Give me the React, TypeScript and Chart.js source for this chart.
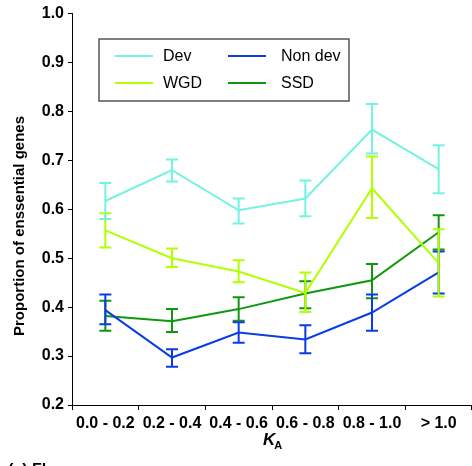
import React, { useEffect, useRef } from "react";
import { Chart, registerables } from "chart.js";

Chart.register(...registerables);

const FONT = "'Liberation Sans', Arial, Helvetica, sans-serif";
const NARROW = "'Liberation Sans Narrow', 'Arial Narrow', 'Liberation Sans', Arial, sans-serif";

const categories = ["0.0 - 0.2", "0.2 - 0.4", "0.4 - 0.6", "0.6 - 0.8", "0.8 - 1.0", "> 1.0"];

const devMean = [0.617, 0.68, 0.598, 0.622, 0.763, 0.682];
const devLow = [0.58, 0.657, 0.571, 0.586, 0.714, 0.633];
const devHigh = [0.654, 0.702, 0.622, 0.659, 0.815, 0.731];

const wgdMean = [0.557, 0.5, 0.473, 0.429, 0.643, 0.49];
const wgdLow = [0.522, 0.482, 0.451, 0.39, 0.582, 0.422];
const wgdHigh = [0.592, 0.52, 0.496, 0.471, 0.708, 0.559];

const nonDevMean = [0.394, 0.297, 0.348, 0.334, 0.389, 0.471];
const nonDevLow = [0.365, 0.278, 0.327, 0.306, 0.352, 0.428];
const nonDevHigh = [0.426, 0.314, 0.369, 0.363, 0.426, 0.514];

const ssdMean = [0.382, 0.371, 0.396, 0.428, 0.455, 0.553];
const ssdLow = [0.352, 0.349, 0.372, 0.398, 0.418, 0.518];
const ssdHigh = [0.413, 0.396, 0.42, 0.453, 0.488, 0.588];

const seriesNames = ["Dev", "WGD", "Non dev", "SSD"];
const seriesColors = ["#74f3e0", "#b2ff00", "#0a3ce6", "#0f980f"];

const yTicks = [0.2, 0.3, 0.4, 0.5, 0.6, 0.7, 0.8, 0.9, 1.0];

const errorBarPlugin = {
  id: "errorBars",
  afterDatasetDraw(chart: any, args: any) {
    const ds: any = chart.data.datasets[args.index];
    const meta = chart.getDatasetMeta(args.index);
    const yScale = chart.scales.y;
    const ctx = chart.ctx;
    ctx.save();
    ctx.strokeStyle = ds.borderColor;
    ctx.lineWidth = 2;
    meta.data.forEach((pt: any, i: number) => {
      const x = pt.x;
      const yl = yScale.getPixelForValue(ds.errLow[i]);
      const yh = yScale.getPixelForValue(ds.errHigh[i]);
      ctx.beginPath();
      ctx.moveTo(x, yl);
      ctx.lineTo(x, yh);
      ctx.moveTo(x - 6, yl);
      ctx.lineTo(x + 6, yl);
      ctx.moveTo(x - 6, yh);
      ctx.lineTo(x + 6, yh);
      ctx.stroke();
    });
    ctx.restore();
  },
};

const decorPlugin = {
  id: "decor",
  afterDraw(chart: any) {
    const ctx = chart.ctx;
    const area = chart.chartArea;
    ctx.save();
    // Legend box
    const bx = 99, by = 39, bw = 250, bh = 62;
    ctx.fillStyle = "#fff";
    ctx.fillRect(bx, by, bw, bh);
    ctx.strokeStyle = "#555";
    ctx.lineWidth = 1.5;
    ctx.strokeRect(bx, by, bw, bh);
    const entries = [
      { i: 0, lx: 115, tx: 163, y: 56 },
      { i: 2, lx: 228, tx: 281, y: 56 },
      { i: 1, lx: 115, tx: 163, y: 83 },
      { i: 3, lx: 228, tx: 281, y: 83 },
    ];
    ctx.font = `16px ${FONT}`;
    ctx.textBaseline = "middle";
    ctx.textAlign = "left";
    entries.forEach((e) => {
      ctx.strokeStyle = seriesColors[e.i];
      ctx.lineWidth = 2;
      ctx.beginPath();
      ctx.moveTo(e.lx, e.y);
      ctx.lineTo(e.lx + 38, e.y);
      ctx.stroke();
      ctx.fillStyle = "#000";
      ctx.fillText(seriesNames[e.i], e.tx, e.y + 1);
    });
    // Y axis title
    ctx.save();
    ctx.translate(20, 226);
    ctx.rotate(-Math.PI / 2);
    ctx.font = `bold 15px ${FONT}`;
    ctx.textAlign = "center";
    ctx.textBaseline = "middle";
    ctx.fillStyle = "#000";
    ctx.fillText("Proportion of enssential genes", 0, 0);
    ctx.restore();
    // X axis title K_A
    const cx = (area.left + area.right) / 2;
    ctx.fillStyle = "#000";
    ctx.textAlign = "left";
    ctx.textBaseline = "alphabetic";
    ctx.font = `italic bold 17px ${FONT}`;
    const kw = ctx.measureText("K").width;
    ctx.font = `bold 11px ${FONT}`;
    const aw = ctx.measureText("A").width;
    const start = cx - (kw + aw) / 2 + 1;
    ctx.font = `italic bold 17px ${FONT}`;
    ctx.fillText("K", start, 445);
    ctx.font = `bold 11px ${FONT}`;
    ctx.fillText("A", start + kw - 1, 449);
    // Panel label
    ctx.font = `bold 16px ${FONT}`;
    ctx.textBaseline = "top";
    ctx.fillText("(c) Fly", 8, 463);
    ctx.restore();
  },
};

export default function App() {
  const ref = useRef<HTMLCanvasElement>(null);
  useEffect(() => {
    const mk = (i: number, mean: number[], low: number[], high: number[]) => ({
      label: seriesNames[i],
      data: mean,
      errLow: low,
      errHigh: high,
      borderColor: seriesColors[i],
      backgroundColor: seriesColors[i],
      borderWidth: 2,
      pointRadius: 0,
      tension: 0,
      fill: false,
    });
    const chart = new Chart(ref.current!, {
      type: "line",
      data: {
        labels: categories,
        datasets: [
          mk(0, devMean, devLow, devHigh),
          mk(1, wgdMean, wgdLow, wgdHigh),
          mk(2, nonDevMean, nonDevLow, nonDevHigh),
          mk(3, ssdMean, ssdLow, ssdHigh),
        ] as any,
      },
      options: {
        animation: false,
        responsive: true,
        maintainAspectRatio: false,
        devicePixelRatio: 1,
        layout: { padding: { top: 13, left: 0, right: 0, bottom: 0 } },
        plugins: { legend: { display: false }, tooltip: { enabled: false } },
        scales: {
          x: {
            type: "category",
            offset: true,
            grid: {
              display: true,
              drawOnChartArea: false,
              drawTicks: true,
              tickLength: 5,
              color: "#000",
              offset: true,
            },
            border: { display: true, color: "#000", width: 1 },
            ticks: {
              font: { family: NARROW, size: 16, weight: "bold" },
              color: "#000",
              padding: 4,
              autoSkip: false,
              maxRotation: 0,
            },
            afterFit: (s: any) => {
              s.height = 61;
            },
          },
          y: {
            min: 0.2,
            max: 1.0,
            afterBuildTicks: (s: any) => {
              s.ticks = yTicks.map((v) => ({ value: v }));
            },
            grid: {
              display: true,
              drawOnChartArea: false,
              drawTicks: true,
              tickLength: 4,
              color: "#000",
            },
            border: { display: true, color: "#000", width: 1 },
            ticks: {
              font: { family: FONT, size: 16, weight: "bold" },
              color: "#000",
              padding: 4,
              callback: (v: any) => Number(v).toFixed(1),
            },
            afterFit: (s: any) => {
              s.width = 72;
            },
          },
        },
      },
      plugins: [errorBarPlugin, decorPlugin],
    });
    return () => chart.destroy();
  }, []);
  return (
    <div style={{ position: "absolute", left: 0, top: 0, width: 472, height: 466 }}>
      <canvas ref={ref} />
    </div>
  );
}
